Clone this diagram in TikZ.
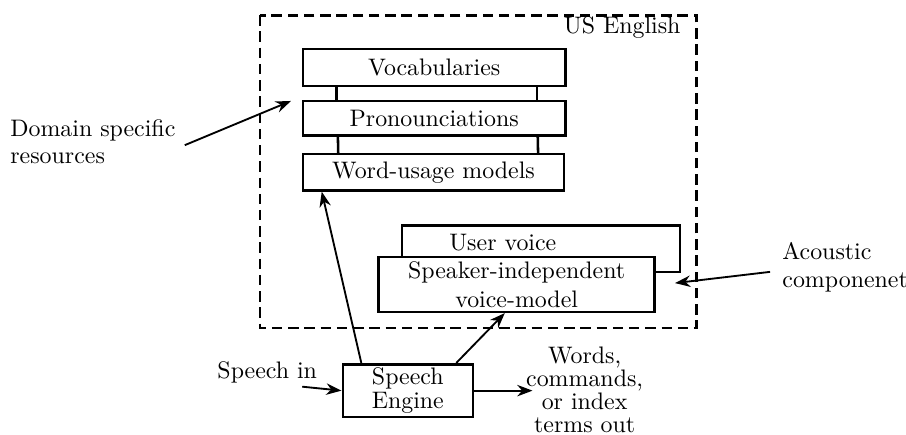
\documentclass[tikz,border=0pt]{standalone}
\usepackage{tikz}
\usetikzlibrary{
    arrows.meta,
    positioning
}

\begin{document}
\begin{tikzpicture}[
        >=Stealth,
        box/.style={
            rectangle,
            draw,
            line width=1.1pt,
            inner sep=1pt,
            font=\fontsize{10.3}{12.4}\selectfont
        },
        txt/.style={
            inner sep=0pt,
            font=\fontsize{10.3}{12.4}\selectfont
        },
        frame/.style={
            draw,
            line width=1.2pt,
            dash pattern=on 4.5pt off 2.5pt
        }
    ]
        \useasboundingbox (0,0) rectangle (13.73,-6.58);
        \draw[frame] (3.94,-0.23) rectangle (10.56,-4.97);
        \node[txt, anchor=east] (lang) at (10.32,-0.41) {US English};

        \node[box, minimum width=3.98cm, minimum height=0.56cm] (voc) at (6.58,-1.02) {Vocabularies};
        \node[box, minimum width=3.98cm, minimum height=0.52cm] (pron) at (6.58,-1.79) {Pronounciations};
        \node[box, minimum width=3.95cm, minimum height=0.55cm] (wum) at (6.57,-2.61) {Word-usage models};
        \draw[line width=1.1pt] ([xshift=0.53cm]voc.south west) -- ([xshift=0.53cm]pron.north west);
        \draw[line width=1.1pt] ([xshift=-0.45cm]voc.south east) -- ([xshift=-0.45cm]pron.north east);
        \draw[line width=1.1pt] ([xshift=0.55cm]pron.south west) -- ([xshift=0.55cm]wum.north west);
        \draw[line width=1.1pt] ([xshift=-0.44cm]pron.south east) -- ([xshift=-0.41cm]wum.north east);

        \node[box, minimum width=4.21cm, minimum height=0.71cm] (uv) at (8.20,-3.77) {};
        \node[txt] (uvtext) at (7.62,-3.67) {User voice};
        \node[box, fill=white, align=center, minimum width=4.18cm, minimum height=0.83cm] (spk) at (7.83,-4.31)
            {Speaker-independent\\voice-model};

        \node[box, align=center, minimum width=1.97cm, minimum height=0.80cm] (se) at (6.18,-5.92)
            {Speech\\[-2pt]Engine};
        \node[txt] (in) at (4.05,-5.64) {Speech in};
        \coordinate (inA) at (4.58,-5.86);
        \draw[->, thick] (inA) -- (se.west);
        \coordinate (outB) at (8.07,-5.92);
        \draw[->, thick] (se.east) -- (outB);
        \node[txt, align=center] (out) at (8.86,-5.91)
            {Words,\\[-2.5pt]commands,\\[-2.5pt]or index\\[-2.5pt]terms out};

        \node[txt, anchor=west, align=left] (dom) at (0.15,-2.15) {Domain specific\\[-1pt]resources};
        \coordinate (domA) at (2.80,-2.20);
        \coordinate (domB) at (4.41,-1.53);
        \draw[->, thick] (domA) -- (domB);

        \node[txt, anchor=west, align=left] (ac) at (11.85,-4.05) {Acoustic\\componenet};
        \coordinate (acA) at (11.67,-4.12);
        \coordinate (acB) at (10.23,-4.29);
        \draw[->, thick] (acA) -- (acB);

        \draw[->, thick] ([xshift=0.3cm]se.north west) -- ([xshift=0.3cm]wum.south west);
        \draw[->, thick] ([xshift=-0.27cm]se.north east) -- ([xshift=-0.18cm]spk.south);
    \end{tikzpicture}
\end{document}
